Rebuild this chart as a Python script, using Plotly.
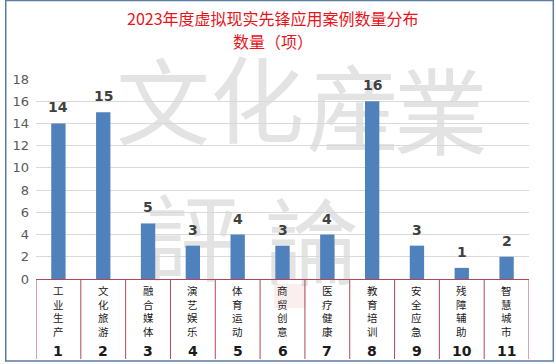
import plotly.graph_objects as go

title = "2023年度虚拟现实先锋应用案例数量分布"
subtitle = "数量（项）"
categories = ["工业生产", "文化旅游", "融合媒体", "演艺娱乐", "体育运动", "商贸创意",
              "医疗健康", "教育培训", "安全应急", "残障辅助", "智慧城市"]
category_numbers = ["1", "2", "3", "4", "5", "6", "7", "8", "9", "10", "11"]
counts = [14, 15, 5, 3, 4, 3, 4, 16, 3, 1, 2]
y_ticks = [0, 2, 4, 6, 8, 10, 12, 14, 16, 18]
watermark_top = "文化産業"
watermark_bottom = "評論"

W, H = 556, 364
L, R, T, B = 32, 27, 79, 85
PW, PH = W - L - R, H - T - B


def px2x(px):
    return (px - L) / PW


def py2y(py):
    return (H - B - py) / PH


CJK = "Noto Sans CJK SC"
BAR = "#4f81bd"
RED_LINE = "#b0485a"

fig = go.Figure()
fig.add_trace(go.Bar(
    x=categories, y=counts, width=0.32,
    marker=dict(color=BAR, line=dict(width=0)),
    cliponaxis=False, hoverinfo="skip",
))

shapes = []
# watermark (behind everything)
wm_pos_top = [(160, 112), (255, 110), (352, 118), (440, 122)]
wm_pos_bot = [(190, 248), (310, 252)]
for ch, (cx, cy) in list(zip(watermark_top, wm_pos_top)) + list(zip(watermark_bottom, wm_pos_bot)):
    shapes.append(dict(type="rect", xref="paper", yref="paper",
                       x0=px2x(cx - 50), x1=px2x(cx + 50), y0=py2y(cy + 50), y1=py2y(cy - 50),
                       line=dict(width=0), fillcolor="rgba(0,0,0,0)", layer="below",
                       label=dict(text=ch, font=dict(size=94, color="#e3e3e3", family=CJK))))
# faint seal
shapes.append(dict(type="rect", xref="paper", yref="paper",
                   x0=px2x(272), x1=px2x(304), y0=py2y(308), y1=py2y(284),
                   line=dict(width=0), fillcolor="rgba(230,140,140,0.15)", layer="below"))

# table separators
for i in range(len(categories) + 1):
    shapes.append(dict(type="line", xref="x", yref="paper",
                       x0=i - 0.5, x1=i - 0.5, y0=0, y1=py2y(359),
                       line=dict(color=RED_LINE, width=1)))
# outer frame
shapes.append(dict(type="rect", xref="paper", yref="paper",
                   x0=px2x(1.5), x1=px2x(553.5), y0=py2y(361), y1=py2y(0.5),
                   line=dict(color="#5b7ba0", width=1.5), fillcolor="rgba(0,0,0,0)"))

annotations = []
for cat, num, val in zip(categories, category_numbers, counts):
    # value label above bar
    annotations.append(dict(x=cat, xref="x", y=val, yref="y", text=f"<b>{val}</b>",
                            showarrow=False, xanchor="center", yanchor="bottom", yshift=6,
                            font=dict(size=14, color="#404040", family="DejaVu Sans")))
    # vertical category label
    annotations.append(dict(x=cat, xref="x", yref="paper", y=py2y(281),
                            text="<br>".join(cat), showarrow=False,
                            xanchor="center", yanchor="top",
                            font=dict(size=10.5, color="#1a1a1a", family=CJK)))
    annotations.append(dict(x=cat, xref="x", yref="paper", y=py2y(351),
                            text=f"<b>{num}</b>", showarrow=False, xanchor="center", yanchor="middle",
                            font=dict(size=14, color="#1a1a1a", family="DejaVu Sans")))

annotations.append(dict(x=px2x(271), xref="paper", y=py2y(18), yref="paper", text=title,
                        showarrow=False, xanchor="center", yanchor="middle",
                        font=dict(size=16, color="#e8141b", family=CJK)))
annotations.append(dict(x=px2x(271), xref="paper", y=py2y(41), yref="paper", text=subtitle,
                        showarrow=False, xanchor="center", yanchor="middle",
                        font=dict(size=16, color="#e8141b", family=CJK)))

fig.update_layout(
    width=W, height=H,
    margin=dict(l=L, r=R, t=T, b=B, pad=0),
    paper_bgcolor="white", plot_bgcolor="rgba(0,0,0,0)",
    showlegend=False, bargap=0.68,
    shapes=shapes, annotations=annotations,
    xaxis=dict(range=[-0.5, len(categories) - 0.5], showticklabels=False, showgrid=False,
               zeroline=False, showline=True, linecolor=RED_LINE, linewidth=1, ticks=""),
    yaxis=dict(range=[0, 18], tickvals=y_ticks, showgrid=True, gridcolor="#d9d9d9", gridwidth=1,
               zeroline=False, showline=False, ticks="",
               tickfont=dict(size=13, color="#595959", family="DejaVu Sans"),
               ticklabelstandoff=6),
)

fig.write_html("out.html")
